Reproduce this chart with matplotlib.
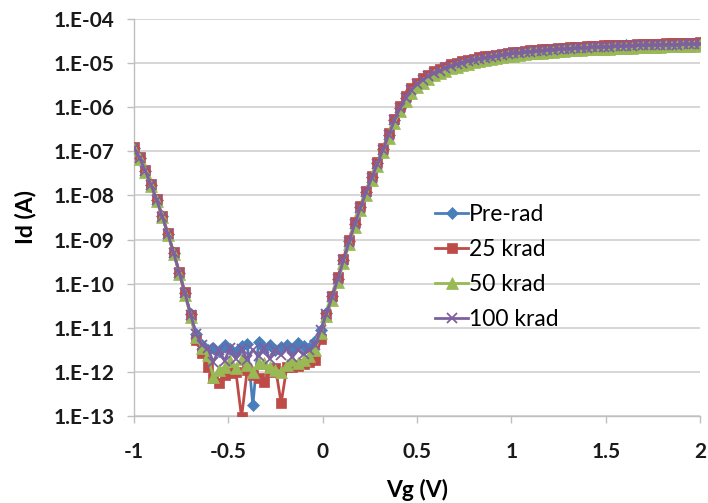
import numpy as np
import matplotlib.pyplot as plt
from matplotlib.ticker import FixedLocator, FuncFormatter

# gate voltage sweep, -1 V to 2 V in 30 mV steps
vg = np.linspace(-1.0, 2.0, 101)

# log10(Id), one value per sweep point
pre_rad = [
    -6.92, -7.15, -7.44, -7.76, -8.10, -8.47, -8.88, -9.30, -9.75, -10.22, -10.68,
    -11.15, -11.40,
    -11.50, -11.45, -11.52, -11.40, -11.48, -11.55, -11.42, -11.36, -12.76, -11.33,
    -11.45, -11.40, -11.50, -11.44, -11.38, -11.47, -11.35, -11.42, -11.46, -11.30,
    -11.04, -10.67, -10.29, -9.89, -9.46, -9.04, -8.64, -8.27, -7.92, -7.59, -7.27,
    -6.95, -6.62, -6.29, -6.01, -5.78, -5.60, -5.47, -5.37, -5.29, -5.22, -5.16,
    -5.11, -5.06, -5.02, -4.98, -4.95, -4.92, -4.89, -4.87, -4.85, -4.83, -4.81,
    -4.79, -4.77, -4.76, -4.74, -4.73, -4.72, -4.71, -4.70, -4.69, -4.68, -4.67,
    -4.66, -4.65, -4.65, -4.64, -4.63, -4.63, -4.62, -4.62, -4.61, -4.61, -4.60,
    -4.60, -4.59, -4.59, -4.58, -4.58, -4.58, -4.57, -4.57, -4.57, -4.56, -4.56,
    -4.56, -4.55,
]
krad_25 = [
    -6.90, -7.13, -7.43, -7.74, -8.08, -8.46, -8.86, -9.28, -9.73, -10.20, -10.70,
    -11.28, -11.57,
    -11.89, -12.14, -12.25, -12.07, -12.03, -12.00, -13.03, -11.96, -12.07, -12.14,
    -12.23, -12.00, -11.91, -12.71, -11.89, -11.89, -11.87, -11.82, -11.78, -11.73,
    -11.25, -10.72, -10.27, -9.86, -9.43, -9.01, -8.61, -8.24, -7.89, -7.56, -7.24,
    -6.92, -6.59, -6.26, -5.98, -5.75, -5.57, -5.44, -5.34, -5.26, -5.19, -5.13,
    -5.08, -5.03, -4.99, -4.96, -4.93, -4.90, -4.87, -4.85, -4.83, -4.81, -4.79,
    -4.77, -4.75, -4.74, -4.72, -4.71, -4.70, -4.69, -4.68, -4.67, -4.66, -4.65,
    -4.64, -4.63, -4.63, -4.62, -4.61, -4.61, -4.60, -4.60, -4.59, -4.59, -4.58,
    -4.58, -4.57, -4.57, -4.56, -4.56, -4.56, -4.55, -4.55, -4.55, -4.54, -4.54,
    -4.54, -4.53,
]
krad_50 = [
    -6.94, -7.17, -7.47, -7.78, -8.12, -8.50, -8.90, -9.32, -9.77, -10.25, -10.75,
    -11.20, -11.45,
    -11.62, -12.12, -11.95, -11.89, -11.75, -11.91, -11.70, -11.85, -12.00, -11.80,
    -11.80, -11.89, -11.95, -12.00, -11.85, -11.72, -11.80, -11.73, -11.65, -11.50,
    -11.12, -10.74, -10.36, -9.96, -9.53, -9.11, -8.71, -8.34, -7.99, -7.66, -7.34,
    -7.02, -6.69, -6.36, -6.08, -5.85, -5.67, -5.54, -5.44, -5.36, -5.28, -5.22,
    -5.17, -5.12, -5.08, -5.04, -5.01, -4.98, -4.95, -4.93, -4.91, -4.89, -4.87,
    -4.85, -4.83, -4.81, -4.79, -4.78, -4.77, -4.76, -4.75, -4.74, -4.73, -4.72,
    -4.71, -4.70, -4.70, -4.69, -4.68, -4.68, -4.67, -4.67, -4.66, -4.66, -4.65,
    -4.65, -4.64, -4.64, -4.63, -4.63, -4.63, -4.62, -4.62, -4.62, -4.61, -4.61,
    -4.61, -4.60,
]
krad_100 = [
    -6.92, -7.15, -7.45, -7.76, -8.10, -8.48, -8.88, -9.30, -9.75, -10.22, -10.70,
    -11.15, -11.38,
    -11.45, -11.78, -11.50, -11.75, -11.45, -11.70, -11.48, -11.72, -11.50, -11.65,
    -11.45, -11.70, -11.50, -11.62, -11.48, -11.66, -11.50, -11.60, -11.50, -11.40,
    -11.05, -10.68, -10.30, -9.90, -9.47, -9.05, -8.65, -8.28, -7.93, -7.60, -7.28,
    -6.96, -6.63, -6.30, -6.02, -5.79, -5.61, -5.48, -5.38, -5.30, -5.23, -5.17,
    -5.12, -5.07, -5.03, -4.99, -4.96, -4.93, -4.90, -4.88, -4.86, -4.84, -4.82,
    -4.80, -4.78, -4.77, -4.75, -4.74, -4.73, -4.72, -4.71, -4.70, -4.69, -4.68,
    -4.67, -4.66, -4.66, -4.65, -4.64, -4.64, -4.63, -4.63, -4.62, -4.62, -4.61,
    -4.61, -4.60, -4.60, -4.59, -4.59, -4.59, -4.58, -4.58, -4.58, -4.57, -4.57,
    -4.57, -4.56,
]

series = [
    ('Pre-rad', pre_rad, '#4A7EBB', 'D', 6),
    ('25 krad', krad_25, '#BE4B48', 's', 7),
    ('50 krad', krad_50, '#98B954', '^', 8),
    ('100 krad', krad_100, '#7D60A0', 'x', 7),
]

decades = [-13, -12, -11, -10, -9, -8, -7, -6, -5, -4]
x_ticks = [-1, -0.5, 0, 0.5, 1, 1.5, 2]

plt.rcParams['font.family'] = ['Lato', 'DejaVu Sans']

fig = plt.figure(figsize=(7.08, 5.03), dpi=100)
ax = fig.add_axes([134 / 708, 1 - 416 / 503, 566 / 708, 397 / 503])

for i, (name, vals, col, mk, ms) in enumerate(series):
    ax.plot(vg, 10.0 ** np.array(vals), color=col, lw=2, marker=mk, ms=ms,
            mew=1.3 if mk == 'x' else 0.5, mec=col, label=name, zorder=3 + i)

ax.set_yscale('log')
ax.set_ylim(1e-13, 1e-4)
ax.set_xlim(-1, 2)
ax.yaxis.set_major_locator(FixedLocator([10.0 ** d for d in decades]))
ax.yaxis.set_minor_locator(FixedLocator([]))
ax.yaxis.set_major_formatter(FuncFormatter(
    lambda v, p: '1.E-%02d' % int(round(-np.log10(v)))))
ax.xaxis.set_major_locator(FixedLocator(x_ticks))
ax.xaxis.set_major_formatter(FuncFormatter(lambda v, p: '%g' % v))

ax.grid(axis='y', color='#D0D0D0', lw=1.2, zorder=0)
for s in ['top', 'right']:
    ax.spines[s].set_visible(False)
for s in ['left', 'bottom']:
    ax.spines[s].set_color('#BFBFBF')
    ax.spines[s].set_linewidth(1.0)
ax.tick_params(axis='both', which='major', direction='out', length=5,
               color='#BFBFBF', width=1.0, labelsize=15, labelcolor='#1a1a1a')
ax.tick_params(axis='y', pad=9)
ax.tick_params(axis='x', pad=14)
for lab in ax.get_xticklabels() + ax.get_yticklabels():
    lab.set_fontweight('bold')

ax.set_xlabel('Vg (V)', fontsize=16.5, fontweight='bold', labelpad=12)
ax.set_ylabel('Id (A)', fontsize=16.5, fontweight='bold', labelpad=12)

ax.legend(loc='upper left', bbox_to_anchor=(424 / 708, 1 - 193 / 503),
          bbox_transform=fig.transFigure, frameon=False, fontsize=16.5,
          handlelength=1.4, handletextpad=0.05, labelspacing=0.6, borderpad=0)

fig.savefig('out.png', dpi=100)
